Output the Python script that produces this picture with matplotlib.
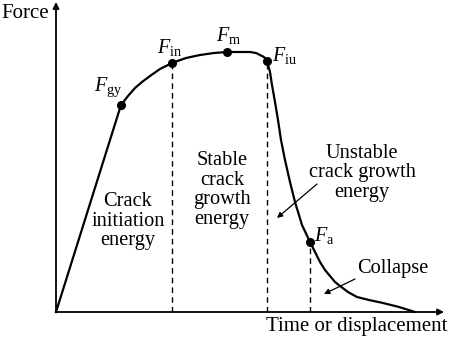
import numpy as np
import matplotlib
matplotlib.use("Agg")
import matplotlib.pyplot as plt

plt.rcParams['font.family'] = ['Liberation Serif', 'DejaVu Serif']
plt.rcParams['mathtext.fontset'] = 'custom'
plt.rcParams['mathtext.rm'] = 'Liberation Serif'
plt.rcParams['mathtext.it'] = 'Liberation Serif:italic'

# force-displacement curve (schematic units, origin at the axes corner)
curve_x = [0, 54, 65, 72, 79, 86, 94, 104, 116, 130, 144, 158, 171, 184, 194, 200, 204, 208, 211,
           214, 216, 219, 222, 225, 229, 234, 239, 246, 254, 259, 264, 269, 274, 279, 284, 292,
           301, 313, 327, 343, 359]
curve_y = [0, 172, 207, 216, 224, 230, 236, 243, 249, 254, 257, 259, 260, 260, 260, 259, 257, 255, 251,
           240, 227, 210, 192, 172, 152, 130, 110, 87, 70, 60, 50, 42, 36, 30, 26, 20,
           15, 12, 9, 5, 0]

point_names = ['gy', 'in', 'm', 'iu', 'a']
point_x = [65, 116, 171, 211, 254]
point_y = [207, 249, 260, 251, 70]
label_x = [52, 114, 173, 229, 268]
label_y = [225, 264, 276, 257, 76]
dashed_points = ['in', 'iu', 'a']

fig = plt.figure(figsize=(4.5, 3.42), dpi=100)
ax = fig.add_axes([0, 0, 1, 1])
ax.set_xlim(-56, 394)
ax.set_ylim(-30, 312)
ax.axis('off')

# axes with arrows
ax.annotate('', xy=(0, 310), xytext=(0, -0.5),
            arrowprops=dict(arrowstyle='-|>', lw=1.3, color='black', mutation_scale=9, shrinkA=0, shrinkB=0))
ax.annotate('', xy=(388, 0), xytext=(-0.5, 0),
            arrowprops=dict(arrowstyle='-|>', lw=1.3, color='black', mutation_scale=9, shrinkA=0, shrinkB=0))

ax.plot(curve_x, curve_y, color='black', lw=1.6, solid_joinstyle='round', solid_capstyle='round')

for name, px, py, lx, ly in zip(point_names, point_x, point_y, label_x, label_y):
    ax.plot(px, py, 'o', color='black', markersize=5.5)
    ax.text(lx, ly, r'$F_{\mathrm{%s}}$' % name, fontsize=14.5, ha='center', va='center')
    if name in dashed_points:
        ax.plot([px, px], [0, py], color='black', lw=1, linestyle=(0, (4, 3)))

ax.text(-55, 299, 'Force', fontsize=15, ha='left', va='center')
ax.text(301, -15, 'Time or displacement', fontsize=15, ha='center', va='center')

ax.text(72, 91, 'Crack\ninitiation\nenergy', fontsize=14.7, ha='center', va='center', linespacing=1.06)
ax.text(166, 122, 'Stable\ncrack\ngrowth\nenergy', fontsize=14.7, ha='center', va='center', linespacing=1.06)
ax.text(306, 139, 'Unstable\ncrack growth\nenergy', fontsize=14.7, ha='center', va='center', linespacing=1.06)
ax.text(337, 44, 'Collapse', fontsize=14.7, ha='center', va='center')

ax.annotate('', xy=(221, 94), xytext=(261, 128),
            arrowprops=dict(arrowstyle='-|>', lw=0.9, color='black', mutation_scale=8, shrinkA=0, shrinkB=0))
ax.annotate('', xy=(268, 18), xytext=(299, 33),
            arrowprops=dict(arrowstyle='-|>', lw=0.9, color='black', mutation_scale=8, shrinkA=0, shrinkB=0))

fig.savefig('out.png', dpi=100)
